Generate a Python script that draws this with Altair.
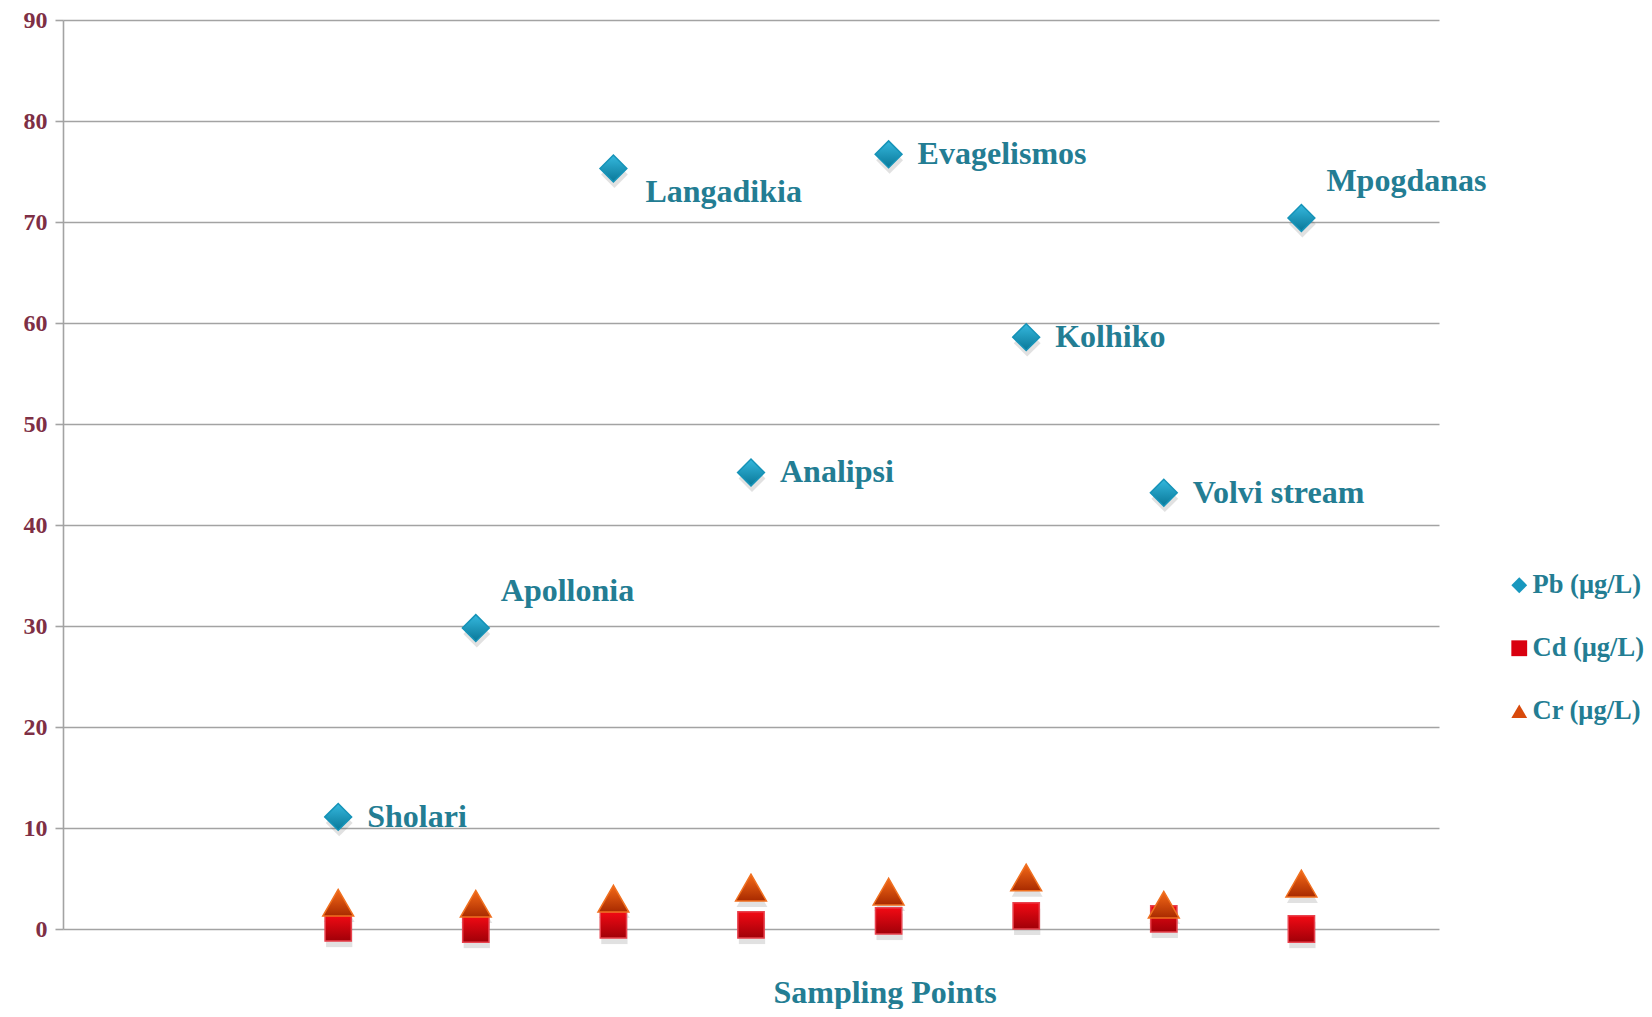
import altair as alt
import pandas as pd

sites = ["Sholari", "Apollonia", "Langadikia", "Analipsi", "Evagelismos",
         "Kolhiko", "Volvi stream", "Mpogdanas"]
site_pos = [2, 3, 4, 5, 6, 7, 8, 9]
pb = [11.1, 29.8, 75.3, 45.2, 76.7, 58.6, 43.2, 70.4]
cd = [0.1, 0.0, 0.4, 0.4, 0.8, 1.3, 1.0, 0.0]
cr = [2.6, 2.5, 3.0, 4.1, 3.7, 5.1, 2.4, 4.5]
series_names = ["Pb (μg/L)", "Cd (μg/L)", "Cr (μg/L)"]
y_ticks = [0, 10, 20, 30, 40, 50, 60, 70, 80, 90]

labels_above = ["Apollonia", "Mpogdanas"]
labels_below = ["Langadikia"]

rows = []
for name, vals in zip(series_names, [pb, cd, cr]):
    for s, p, v in zip(sites, site_pos, vals):
        rows.append({"site": s, "pos": p, "series": name, "value": v})
df = pd.DataFrame(rows)

TEAL = "#237D93"
MAROON = "#7E2F45"
FONT = "Liberation Serif"

colors = ["#1897BE", "#D9000F", "#D84A0C"]
strokes = ["#1593B8", "#E8434E", "#F07020"]
shapes = ["diamond", "square", "triangle-up"]
sizes = [720, 690, 950]
grads = [("#35B8DE", "#0A7898"), ("#F20A14", "#A00008"), ("#F56A18", "#A82A00")]

x_enc = alt.X("pos:Q", scale=alt.Scale(domain=[0, 10]), axis=None)
y_enc = alt.Y("value:Q", scale=alt.Scale(domain=[0, 90]),
              axis=alt.Axis(values=y_ticks, title=None, grid=True,
                            gridColor="#A3A3A3", gridWidth=1.6,
                            domainColor="#A3A3A3", domainWidth=1.6,
                            tickColor="#A3A3A3", tickWidth=1.6, tickSize=8,
                            labelFont=FONT, labelFontSize=24,
                            labelFontWeight="bold", labelColor=MAROON,
                            labelPadding=8))

base = alt.Chart(df)

legend = alt.Legend(title=None, orient="none", legendX=1443, legendY=552,
                    labelFont=FONT, labelFontSize=26.5,
                    labelFontWeight="bold", labelColor=TEAL,
                    symbolSize=250, rowPadding=36, labelOffset=0,
                    symbolStrokeWidth=0, symbolOpacity=1)

main = base.mark_point(filled=True, size=700, opacity=0).encode(
    x=x_enc, y=y_enc,
    shape=alt.Shape("series:N", scale=alt.Scale(domain=series_names, range=shapes),
                    legend=legend),
    color=alt.Color("series:N", scale=alt.Scale(domain=series_names, range=colors),
                    legend=legend),
)

layers = [main]
for name, shp, sz, (c1, c2), st in zip(series_names, shapes, sizes, grads, strokes):
    sub = base.transform_filter(alt.datum.series == name)
    layers.append(
        sub.mark_point(filled=True, size=sz, shape=shp, opacity=0.16, color="#444444",
                       yOffset=6, xOffset=1).encode(x=x_enc, y=alt.Y("value:Q"))
    )
for name, shp, sz, (c1, c2), st in zip(series_names, shapes, sizes, grads, strokes):
    sub = base.transform_filter(alt.datum.series == name)
    layers.append(
        sub.mark_point(
            filled=True, size=sz, shape=shp, strokeWidth=1.5, stroke=st, opacity=1,
            fill=alt.Gradient(gradient="linear",
                              stops=[alt.GradientStop(color=c1, offset=0),
                                     alt.GradientStop(color=c2, offset=1)],
                              x1=0, x2=0, y1=0, y2=1)
        ).encode(x=x_enc, y=alt.Y("value:Q"))
    )

pb_only = base.transform_filter(alt.datum.series == series_names[0])
text_style = dict(font=FONT, fontSize=32, fontWeight="bold", color=TEAL, align="left",
                  baseline="middle")

lab_right = pb_only.transform_filter(
    ~alt.FieldOneOfPredicate(field="site", oneOf=labels_above + labels_below)
).mark_text(dx=29, dy=0, **text_style).encode(x=x_enc, y=alt.Y("value:Q"), text="site:N")
lab_above = pb_only.transform_filter(
    alt.FieldOneOfPredicate(field="site", oneOf=labels_above)
).mark_text(dx=25, dy=-37, **text_style).encode(x=x_enc, y=alt.Y("value:Q"), text="site:N")
lab_below = pb_only.transform_filter(
    alt.FieldOneOfPredicate(field="site", oneOf=labels_below)
).mark_text(dx=32, dy=24, **text_style).encode(x=x_enc, y=alt.Y("value:Q"), text="site:N")

xtitle = alt.Chart(pd.DataFrame({"t": ["Sampling Points"]})).mark_text(
    font=FONT, fontSize=32, fontWeight="bold", color=TEAL, baseline="middle",
    align="center", dy=64
).encode(x=alt.value(822), y=alt.value(909), text="t:N")

layers += [lab_right, lab_above, lab_below, xtitle]

chart = alt.layer(*layers).properties(
    width=1376, height=909,
    padding={"left": 55, "top": 12, "right": 205, "bottom": 80},
    autosize=alt.AutoSizeParams(type="none"),
).configure_view(stroke=None)

chart.save("out.html", embed_options={"renderer": "svg", "actions": False})
